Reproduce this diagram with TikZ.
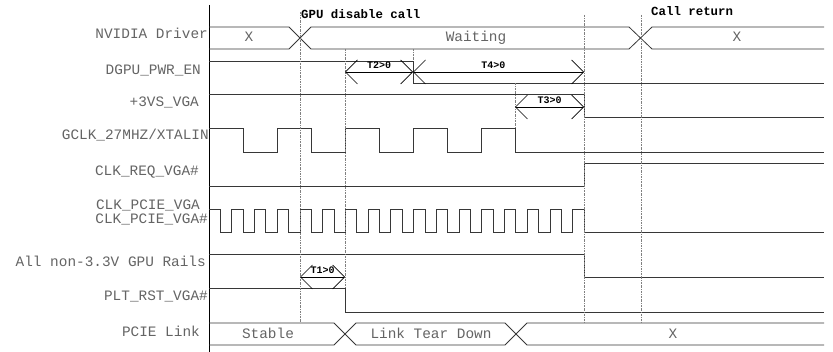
\documentclass[tikz,border=0pt]{standalone}
\usepackage{fontspec}
\usepackage{tikz}
\usetikzlibrary{arrows.meta, positioning}
\newfontfamily\wavefont{Liberation Mono}
\definecolor{wavegray}{RGB}{55, 55, 55}
\definecolor{labelgray}{RGB}{100, 100, 100}

\begin{document}
\begin{tikzpicture}[x=1pt, y=-1pt,
    wave/.style={wavegray, line width=0.8pt},
    event/.style={gray, line width=0.6pt, dash pattern=on 2pt off 1pt on 0.6pt off 1pt},
    siglabel/.style={anchor=base east, yshift=-4.5pt, inner sep=0pt, text=labelgray,
      font=\wavefont\fontsize{14.4}{17}\selectfont},
    buslabel/.style={anchor=base, yshift=-4.5pt, inner sep=0pt, text=labelgray,
      font=\wavefont\fontsize{14.4}{17}\selectfont},
    calllabel/.style={anchor=base west, yshift=-4pt, inner sep=0pt,
      font=\wavefont\bfseries\fontsize{12.4}{14}\selectfont},
    timelabel/.style={inner sep=0pt, font=\wavefont\bfseries\fontsize{10}{12}\selectfont},
    timing/.style={{Straight Barb[length=12pt, width=24pt]}-{Straight Barb[length=12pt, width=24pt]},
      black, line width=0.7pt}]
  \useasboundingbox (0,0) rectangle (833,352);

  % signal names
  \node[siglabel] (nvd)   at (208,34)  {NVIDIA Driver};
  \node[siglabel] (pwren) at (201,70)  {DGPU\_PWR\_EN};
  \node[siglabel] (vga3)  at (199,102) {+3VS\_VGA};
  \node[siglabel] (gclk)  at (209,135) {GCLK\_27MHZ/XTALIN};
  \node[siglabel] (clkrq) at (199,171) {CLK\_REQ\_VGA\#};
  \node[siglabel] (pcie1) at (200,205) {CLK\_PCIE\_VGA};
  \node[siglabel] (pcie2) at (208,219) {CLK\_PCIE\_VGA\#};
  \node[siglabel] (rails) at (206,262) {All non-3.3V GPU Rails};
  \node[siglabel] (prst)  at (208,296) {PLT\_RST\_VGA\#};
  \node[siglabel] (link)  at (200,332) {PCIE Link};

  \draw[black, line width=0.8pt] (209,5) -- (209,352);

  % waveforms
  \draw[wave] (209,27) -- (289,27) -- (311,49) -- (629,49) -- (652,27) -- (824,27);
  \draw[wave] (209,49) -- (289,49) -- (311,27) -- (629,27) -- (652,49) -- (824,49);
  \draw[wave] (209,61) -- (413,61) -- (413,83) -- (824,83);
  \draw[wave] (209,94) -- (584,94) -- (584,117) -- (824,117);
  \draw[wave] (209,128) \foreach \i in {1,...,4} { -- ++(34,0) -- ++(0,24) -- ++(34,0) -- ++(0,-24)}
    -- ++(34,0) -- ++(0,24) -- (824,152);
  \draw[wave] (209,186) -- (584,186) -- (584,163) -- (824,163);
  \draw[wave] (209,209) \foreach \i in {1,...,16} { -- ++(11.364,0) -- ++(0,23) -- ++(11.364,0) -- ++(0,-23)}
    -- ++(11.364,0) -- ++(0,23) -- (824,232);
  \draw[wave] (209,254) -- (584,254) -- (584,277) -- (824,277);
  \draw[wave] (209,288) -- (345,288) -- (345,312) -- (824,312);
  \draw[wave] (209,323) -- (334,323) -- (356,345) -- (505,345) -- (527,323) -- (824,323);
  \draw[wave] (209,345) -- (334,345) -- (356,323) -- (505,323) -- (527,345) -- (824,345);

  \node[buslabel] (drvx)  at (249,37)  {X};
  \node[buslabel] (wait)  at (476,37)  {Waiting};
  \node[buslabel] (drvx2) at (737,37)  {X};
  \node[buslabel] (stab)  at (268,334) {Stable};
  \node[buslabel] (tear)  at (431,334) {Link Tear Down};
  \node[buslabel] (linkx) at (673,334) {X};

  % events
  \draw[event] (300,12) -- (300,323);
  \draw[event] (345,49) -- (345,288);
  \draw[event] (413,49) -- (413,61);
  \draw[event] (515,83) -- (515,128);
  \draw[event] (584,15) -- (584,323);
  \draw[event] (641,15) -- (641,323);
  \node[calllabel] (disable) at (301,15)   {GPU disable call};
  \node[calllabel] (ret)     at (651,11.5) {Call return};

  % timing requirements
  \coordinate (t2s) at (345,72);
  \coordinate (t2e) at (413,72);
  \coordinate (t4e) at (584,72);
  \coordinate (t3s) at (515,107);
  \coordinate (t3e) at (584,107);
  \coordinate (t1s) at (300,277);
  \coordinate (t1e) at (345,277);
  \draw[timing] (t2s) -- node[timelabel, above=3pt] (t2) {T2>0} (t2e);
  \draw[timing] (t2e) -- node[timelabel, above=3pt, pos=0.47] (t4) {T4>0} (t4e);
  \draw[timing] (t3s) -- node[timelabel, above=3pt] (t3) {T3>0} (t3e);
  \draw[timing] (t1s) -- node[timelabel, above=3pt] (t1) {T1>0} (t1e);
\end{tikzpicture}
\end{document}
